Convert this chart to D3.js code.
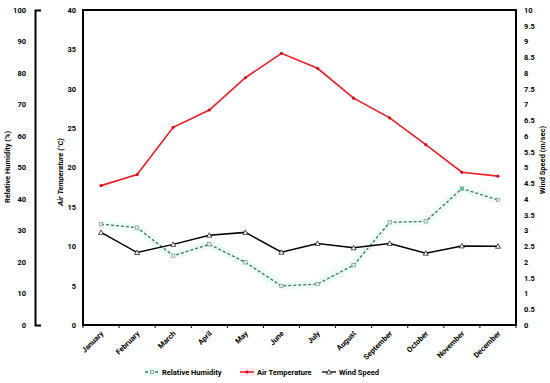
<!DOCTYPE html>
<meta charset="utf-8">
<style>
  body { margin: 0; background: #fff; }
  text { font-family: Roboto, "Open Sans", sans-serif; font-weight: bold; fill: #000; }
</style>
<body>
<svg width="550" height="383"></svg>
<script src="https://d3js.org/d3.v7.min.js"></script>
<script>

var months = ["January","February","March","April","May","June","July","August","September","October","November","December"];
var humidity = [32.0, 30.9, 22.0, 25.6, 19.9, 12.4, 13.0, 19.0, 32.6, 32.9, 43.3, 39.7];
var temperature = [17.7, 19.1, 25.1, 27.3, 31.4, 34.5, 32.6, 28.8, 26.3, 22.9, 19.4, 18.9];
var wind = [2.94, 2.30, 2.56, 2.85, 2.94, 2.31, 2.59, 2.45, 2.59, 2.28, 2.51, 2.50];

var humTicks = d3.range(0, 101, 10);
var tempTicks = d3.range(0, 41, 5);
var windTicks = d3.range(0, 10.01, 0.5);

var svg = d3.select("svg");
var plotLeft = 83, plotRight = 516, plotTop = 10, plotBottom = 325;

var x = d3.scaleBand().domain(months).range([plotLeft, plotRight]);
var cx = function(d, i) { return x(months[i]) + x.bandwidth() / 2; };
var yHum = d3.scaleLinear().domain([0, 100]).range([plotBottom, plotTop]);
var yTemp = d3.scaleLinear().domain([0, 40]).range([plotBottom, plotTop]);
var yWind = d3.scaleLinear().domain([0, 10]).range([plotBottom, plotTop]);

// frame
svg.append("rect")
    .attr("x", plotLeft).attr("y", plotTop)
    .attr("width", plotRight - plotLeft).attr("height", plotBottom - plotTop)
    .attr("fill", "none").attr("stroke", "#000").attr("stroke-width", 2);

// humidity axis (detached on the far left)
var gH = svg.append("g").attr("transform", "translate(35,0)")
    .call(d3.axisLeft(yHum).tickValues(humTicks).tickSizeInner(0).tickSizeOuter(-6).tickPadding(9));
gH.select(".domain").attr("stroke-width", 2);
gH.selectAll("text").style("font-size", "7.5px");

// temperature axis
var gT = svg.append("g").attr("transform", "translate(" + plotLeft + ",0)")
    .call(d3.axisLeft(yTemp).tickValues(tempTicks).tickSize(0).tickPadding(7));
gT.select(".domain").remove();
gT.selectAll("text").style("font-size", "7.5px");

// wind axis
var gW = svg.append("g").attr("transform", "translate(" + plotRight + ",0)")
    .call(d3.axisRight(yWind).tickValues(windTicks).tickSize(0).tickPadding(8)
      .tickFormat(function(d) { return d3.format("~g")(d); }));
gW.select(".domain").remove();
gW.selectAll("text").style("font-size", "7.5px");

// x axis
var gX = svg.append("g").attr("transform", "translate(0," + plotBottom + ")");
gX.selectAll("line")
    .data(d3.range(months.length + 1))
    .enter().append("line")
    .attr("x1", function(i) { return plotLeft + i * x.bandwidth(); })
    .attr("x2", function(i) { return plotLeft + i * x.bandwidth(); })
    .attr("y1", 0).attr("y2", 3)
    .attr("stroke", "#000").attr("stroke-width", 1);
gX.selectAll("text")
    .data(months)
    .enter().append("text")
    .attr("transform", function(d, i) { return "translate(" + (cx(d, i) + 3) + ",9) rotate(-45)"; })
    .attr("text-anchor", "end")
    .style("font-size", "7.5px")
    .text(function(d) { return d; });

// axis titles
svg.append("text")
    .attr("transform", "translate(10,167) rotate(-90)")
    .attr("text-anchor", "middle").style("font-size", "7.5px")
    .text("Relative Humidity (%)");
svg.append("text")
    .attr("transform", "translate(63,172) rotate(-90)")
    .attr("text-anchor", "middle").style("font-size", "7.5px").style("font-style", "italic")
    .text("Air Temperature (\u00B0C)");
svg.append("text")
    .attr("transform", "translate(545,160) rotate(-90)")
    .attr("text-anchor", "middle").style("font-size", "7.5px")
    .text("Wind Speed (m/sec)");

// humidity series
var lineH = d3.line().x(cx).y(function(d) { return yHum(d); });
svg.append("path").datum(humidity)
    .attr("d", lineH).attr("fill", "none")
    .attr("stroke", "#ecfdf8").attr("stroke-width", 8).attr("stroke-linejoin", "bevel");
svg.append("path").datum(humidity)
    .attr("d", lineH).attr("fill", "none")
    .attr("stroke", "#46705e").attr("stroke-width", 1.3).attr("stroke-dasharray", "3,2");
svg.selectAll(".mh").data(humidity).enter().append("rect")
    .attr("x", function(d, i) { return cx(d, i) - 1.7; })
    .attr("y", function(d) { return yHum(d) - 1.7; })
    .attr("width", 3.4).attr("height", 3.4)
    .attr("fill", function(d, i) { return i === 10 ? "#4fd29c" : "#e4ebe7"; })
    .attr("stroke", "#7a8c83").attr("stroke-width", 0.6);

// temperature series
var lineT = d3.line().x(cx).y(function(d) { return yTemp(d); });
svg.append("path").datum(temperature)
    .attr("d", lineT).attr("fill", "none")
    .attr("stroke", "#ee1c24").attr("stroke-width", 1.6);
svg.selectAll(".mt").data(temperature).enter().append("circle")
    .attr("cx", cx).attr("cy", function(d) { return yTemp(d); })
    .attr("r", 1.6).attr("fill", "#c8151c");

// wind series
var lineW = d3.line().x(cx).y(function(d) { return yWind(d); });
svg.append("path").datum(wind)
    .attr("d", lineW).attr("fill", "none")
    .attr("stroke", "#000").attr("stroke-width", 1.5);
svg.selectAll(".mw").data(wind).enter().append("path")
    .attr("transform", function(d, i) { return "translate(" + cx(d, i) + "," + yWind(d) + ")"; })
    .attr("d", "M0,-2.5L2.5,2L-2.5,2Z")
    .attr("fill", "#fff").attr("stroke", "#000").attr("stroke-width", 0.7);

// legend
var legend = [
  {name: "Relative Humidity", x: 145, bg: "#e6fcf6"},
  {name: "Air Temperature", x: 240, bg: "#fde6ec"},
  {name: "Wind Speed", x: 322, bg: null}
];
var ly = 372;
legend.forEach(function(l, i) {
  if (l.bg) svg.append("rect").attr("x", l.x).attr("y", ly - 4).attr("width", 15).attr("height", 8).attr("fill", l.bg);
  var ln = svg.append("line").attr("x1", l.x).attr("x2", l.x + 14).attr("y1", ly).attr("y2", ly);
  if (i === 0) {
    ln.attr("stroke", "#46705e").attr("stroke-width", 1.3).attr("stroke-dasharray", "3,2");
    svg.append("rect").attr("x", l.x + 5.3).attr("y", ly - 1.7).attr("width", 3.4).attr("height", 3.4)
      .attr("fill", "#e4ebe7").attr("stroke", "#7a8c83").attr("stroke-width", 0.6);
  } else if (i === 1) {
    ln.attr("stroke", "#ee1c24").attr("stroke-width", 1.5);
    svg.append("circle").attr("cx", l.x + 7).attr("cy", ly).attr("r", 1.6).attr("fill", "#c8151c");
  } else {
    ln.attr("stroke", "#000").attr("stroke-width", 1.3);
    svg.append("path").attr("transform", "translate(" + (l.x + 7) + "," + ly + ")")
      .attr("d", "M0,-2.5L2.5,2L-2.5,2Z")
      .attr("fill", "#fff").attr("stroke", "#000").attr("stroke-width", 0.7);
  }
  svg.append("text").attr("x", l.x + 17).attr("y", ly + 3)
    .style("font-size", "7.5px").text(l.name);
});

</script>
</body>
